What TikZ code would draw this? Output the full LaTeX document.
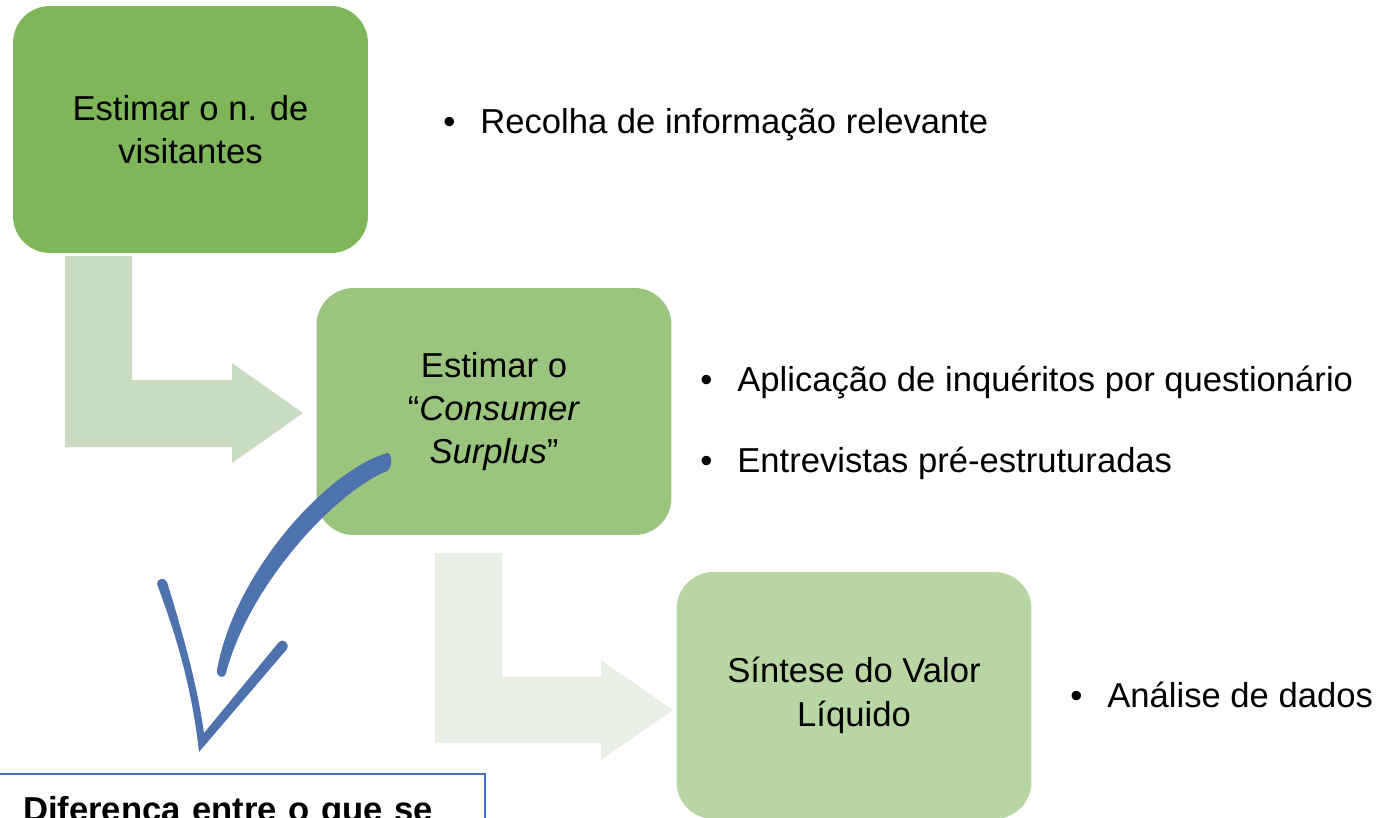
\documentclass[tikz,border=0pt]{standalone}
\usepackage{fontspec}
\setmainfont{Liberation Sans}
\definecolor{gA}{RGB}{126,182,89}
\definecolor{gB}{RGB}{155,196,127}
\definecolor{gC}{RGB}{184,214,163}
\definecolor{arA}{RGB}{201,220,194}
\definecolor{arB}{RGB}{233,239,229}
\definecolor{bluearrow}{RGB}{78,114,174}
\definecolor{blueborder}{RGB}{68,114,196}
\tikzset{
  stepbox/.style={rounded corners=0.74cm, minimum width=7.1cm, minimum height=4.94cm,
    align=center, inner sep=0pt, font=\fontsize{19.7}{24.7}\selectfont, text=black},
  bullettext/.style={anchor=base west, inner sep=0pt, font=\fontsize{19.7}{24.7}\selectfont}
}
\newcommand{\bul}{\makebox[0.74cm][l]{•}}
\begin{document}
\begin{tikzpicture}[x=0.02cm,y=-0.02cm]
\useasboundingbox (0,0) rectangle (1397,818);
% bent arrows
\fill[arA] (65,256) -- (132,256) -- (132,380) -- (232,380) -- (232,363) -- (303,413)
  -- (232,463) -- (232,447) -- (65,447) -- cycle;
\fill[arB] (435,553) -- (502,553) -- (502,677) -- (601,677) -- (601,660) -- (673,710)
  -- (601,760) -- (601,743) -- (435,743) -- cycle;
% boxes
\node[stepbox, fill=gA] (b1) at (190.5,129.5) {Estimar o n. de\\visitantes};
\node[stepbox, fill=gB] (b2) at (494,411.5) {Estimar o\\“\textit{Consumer}\\\textit{Surplus}”};
\node[stepbox, fill=gC] (b3) at (854,695.5) {Síntese do Valor\\Líquido};
% bullets
\node[bullettext] (t1) at (443,133) {\bul Recolha de informação relevante};
\node[bullettext] (t2) at (700,391) {\bul Aplicação de inquéritos por questionário};
\node[bullettext] (t3) at (700,472) {\bul Entrevistas pré-estruturadas};
\node[bullettext] (t4) at (1070,707) {\bul Análise de dados};
% bottom box
\node[draw=blueborder, line width=1.2pt, anchor=north west, inner xsep=0.48cm, inner ysep=0.44cm,
  text width=8.76cm, align=left, font=\fontsize{19.7}{24.7}\selectfont\bfseries]
  (dif) at (-2,773) {Diferença entre o que se};
% blue hand-drawn arrow
\fill[bluearrow] (388,453) .. controls (330,468) and (235,570) .. (217,670)
  .. controls (216,677) and (224,680) .. (226,673)
  .. controls (249,585) and (335,492) .. (387,471)
  .. controls (392,468) and (393,456) .. (388,453) -- cycle;
\fill[bluearrow] (157,584) .. controls (157,578) and (165,577) .. (167,582)
  .. controls (185,640) and (198,690) .. (204,733)
  -- (279,642)
  .. controls (283,638) and (290,643) .. (287,649)
  -- (199,752)
  .. controls (192,690) and (178,640) .. (157,584) -- cycle;
\end{tikzpicture}
\end{document}
